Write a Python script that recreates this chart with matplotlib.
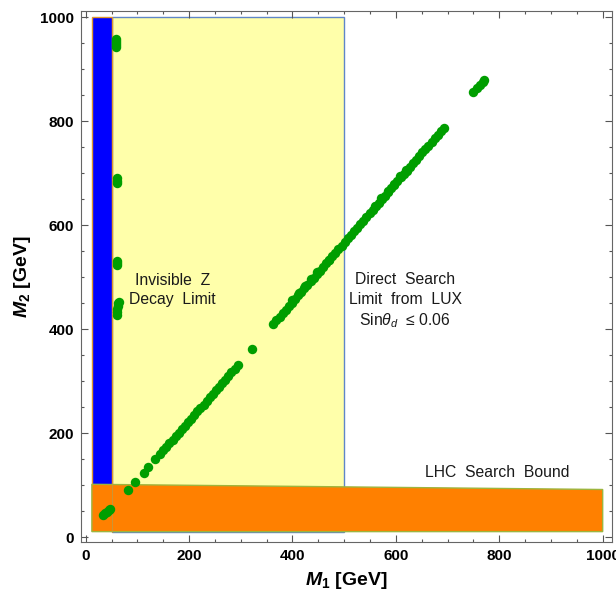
import numpy as np
import matplotlib.pyplot as plt

plt.rcParams['font.family'] = ['Liberation Sans', 'DejaVu Sans']
plt.rcParams['mathtext.fontset'] = 'custom'
plt.rcParams['mathtext.rm'] = 'Liberation Sans'
plt.rcParams['mathtext.it'] = 'Liberation Sans:italic'
plt.rcParams['mathtext.bf'] = 'Liberation Sans:bold'
plt.rcParams['mathtext.bfit'] = 'Liberation Sans:italic:bold'

# excluded regions (GeV)
zdecay_x = [12, 50]
zdecay_y = [100, 1000]
lux_x = [50, 500]
lux_y = [11, 1000]
lhc_x = [12, 1000, 1000, 12]
lhc_y = [11, 11, 92, 102]

# allowed points
col_m1 = [58, 58, 58, 58, 59, 60, 60, 60, 60, 60, 60, 60, 60, 61, 62, 63, 64]
col_m2 = [942, 946, 950, 955, 958, 682, 686, 690, 523, 527, 531, 427, 433, 439, 445, 450, 453]

low_m1 = [34, 38, 42, 46, 48, 82, 96, 113, 121, 135]
low_m2 = [43, 46, 49, 53, 55, 91, 107, 124, 135, 151]

seg1_m1 = [144, 150, 156, 162, 168, 174, 180, 186, 192, 198, 204, 210, 216,
           222, 228, 234, 240, 246, 252, 258, 264, 270, 276, 282, 288, 294, 322]
seg1_m2 = [160, 167, 174, 181, 187, 194, 201, 208, 215, 221, 228, 235, 242,
           249, 255, 262, 269, 276, 283, 290, 297, 303, 310, 317, 324, 331, 362]

seg2_m1 = [363, 369, 375, 381, 387, 393, 399, 405, 411, 417, 423, 429, 435, 441,
           447, 453, 459, 465, 471, 477, 483, 489, 495, 501, 507, 513, 519, 525,
           531, 537, 543, 549, 555, 561, 567, 573, 579, 585, 591, 597, 603, 609,
           615, 621, 627, 633, 639, 645, 651, 657, 663, 669, 675, 681, 687, 693,
           400, 412, 424, 436, 448, 470, 560, 572, 584, 596, 608, 620]
seg2_m2 = [410, 417, 424, 431, 437, 444, 451, 458, 465, 472, 479, 486, 492, 499,
           506, 513, 520, 527, 534, 541, 547, 554, 561, 568, 575, 582, 589, 595,
           602, 609, 616, 623, 630, 637, 643, 650, 657, 664, 671, 678, 685, 692,
           698, 705, 712, 719, 726, 733, 740, 746, 753, 760, 767, 774, 781, 788,
           456, 470, 483, 496, 510, 533, 638, 653, 666, 680, 694, 707]

top_m1 = [750, 756, 762, 768, 771]
top_m2 = [856, 863, 870, 876, 879]

fig = plt.figure(figsize=(6.16, 5.98), dpi=100)
ax = fig.add_axes([0.1315, 0.0936, 0.862, 0.888])

ax.fill([lux_x[0], lux_x[1], lux_x[1], lux_x[0]],
        [lux_y[0], lux_y[0], lux_y[1], lux_y[1]],
        facecolor='#FFFFAA', edgecolor='#5F86C8', lw=1.0, zorder=1)
ax.fill([zdecay_x[0], zdecay_x[1], zdecay_x[1], zdecay_x[0]],
        [zdecay_y[0], zdecay_y[0], zdecay_y[1], zdecay_y[1]],
        facecolor='#0000FF', edgecolor='#E0962E', lw=1.0, zorder=2)
ax.fill(lhc_x, lhc_y, facecolor='#FF8000', edgecolor='#9DB53E', lw=1.0, zorder=3)
ax.plot([zdecay_x[1], zdecay_x[1]], [lhc_y[0], lhc_y[3]], color='#C09A40', lw=0.6, zorder=3)

for xs, ys in [(col_m1, col_m2), (low_m1, low_m2), (seg1_m1, seg1_m2),
               (seg2_m1, seg2_m2), (top_m1, top_m2)]:
    ax.plot(xs, ys, 'o', color='#009E00', ms=6.8, mec='none', zorder=4)

txt = dict(fontsize=11.3, color='#1a1a1a', ha='center', va='center', linespacing=1.35, zorder=5)
ax.text(168, 476, 'Invisible  Z\nDecay  Limit', **txt)
ax.text(618, 454, 'Direct  Search\nLimit  from  LUX\nSin$\\theta_d$  \u2264 0.06', **txt)
ax.text(797, 124, 'LHC  Search  Bound', **txt)

ax.set_xlim(-9, 1018)
ax.set_ylim(-9, 1012)
ax.set_xticks(np.arange(0, 1001, 200))
ax.set_yticks(np.arange(0, 1001, 200))
ax.set_xticks(np.arange(0, 1001, 50), minor=True)
ax.set_yticks(np.arange(0, 1001, 50), minor=True)
ax.tick_params(which='both', direction='in', top=True, right=True,
               color='#555555', width=0.8, labelsize=11, pad=5)
ax.tick_params(which='major', length=5)
ax.tick_params(which='minor', length=2.5)
for lab in ax.get_xticklabels() + ax.get_yticklabels():
    lab.set_fontweight('bold')
for s in ax.spines.values():
    s.set_color('#666666')
    s.set_linewidth(0.8)

ax.set_xlabel('$\\mathbfit{M}_\\mathbf{1}$ [GeV]', fontsize=14, fontweight='bold', labelpad=5)
ax.set_ylabel('$\\mathbfit{M}_\\mathbf{2}$ [GeV]', fontsize=14, fontweight='bold', labelpad=5)

fig.savefig('out.png', dpi=100)
